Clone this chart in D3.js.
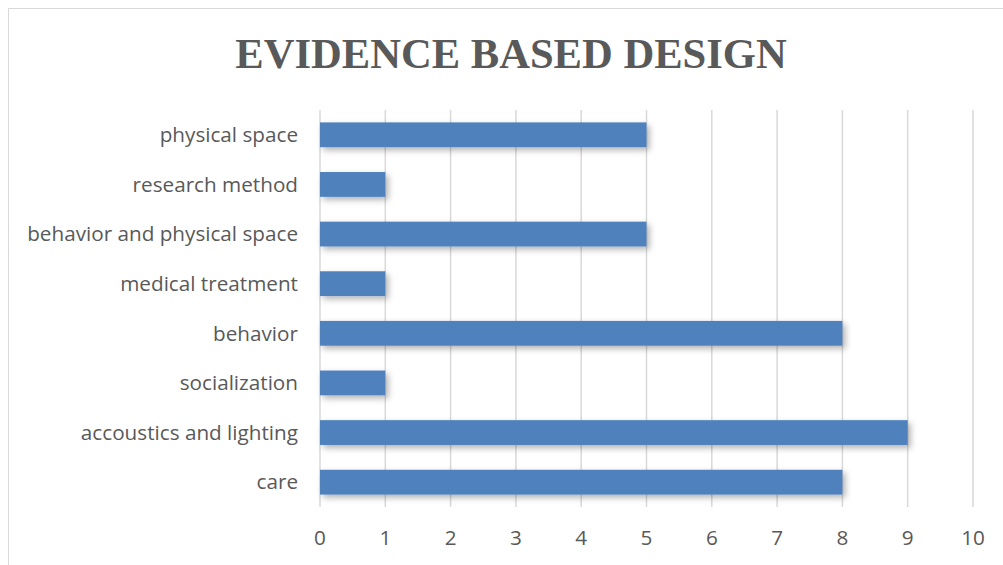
<!DOCTYPE html>
<html>
<head>
<meta charset="utf-8">
<script src="https://cdn.jsdelivr.net/npm/d3@7"></script>
<style>
  html, body { margin: 0; padding: 0; background: #fff; }
  svg { display: block; }
</style>
</head>
<body>
<svg id="chart"></svg>
<script>
// Data (top to bottom)
const categories = ["physical space", "research method", "behavior and physical space",
  "medical treatment", "behavior", "socialization", "accoustics and lighting", "care"];
const counts = [5, 1, 5, 1, 8, 1, 9, 8];
const xTicks = [0, 1, 2, 3, 4, 5, 6, 7, 8, 9, 10];
const chartTitle = "EVIDENCE BASED DESIGN";

const width = 1003, height = 565;
const margin = { top: 110, right: 30, bottom: 58, left: 320 };

const svg = d3.select("#chart").attr("width", width).attr("height", height);

// Chart frame
svg.append("rect")
  .attr("x", 8.5).attr("y", 8.5)
  .attr("width", width + 20).attr("height", height + 20)
  .attr("fill", "none").attr("stroke", "#d9d9d9").attr("stroke-width", 1);

// Drop shadow for bars
const defs = svg.append("defs");
const f = defs.append("filter").attr("id", "shadow")
  .attr("x", "-10%").attr("y", "-30%").attr("width", "130%").attr("height", "180%");
f.append("feDropShadow")
  .attr("dx", 3).attr("dy", 3).attr("stdDeviation", 3)
  .attr("flood-color", "#000").attr("flood-opacity", 0.3);

const x = d3.scaleLinear().domain([0, 10]).range([margin.left, 973]);
const y = d3.scaleBand().domain(categories)
  .range([margin.top, height - margin.bottom]).paddingInner(0.5).paddingOuter(0.25);

// Title
svg.append("text")
  .attr("x", 511).attr("y", 68)
  .attr("text-anchor", "middle")
  .attr("font-family", "'Liberation Serif', 'Times New Roman', serif")
  .attr("font-weight", "bold")
  .attr("font-size", "42.6px")
  .attr("fill", "#595959")
  .text(chartTitle);

// Vertical gridlines
svg.append("g")
  .selectAll("line")
  .data(xTicks)
  .join("line")
  .attr("x1", d => x(d)).attr("x2", d => x(d))
  .attr("y1", margin.top).attr("y2", height - margin.bottom)
  .attr("stroke", "#d9d9d9").attr("stroke-width", 1.5);

// Bars
svg.append("g")
  .selectAll("rect")
  .data(categories)
  .join("rect")
  .attr("x", x(0))
  .attr("y", d => y(d))
  .attr("width", (d, i) => x(counts[i]) - x(0))
  .attr("height", y.bandwidth())
  .attr("fill", "#4f81bd")
  .attr("filter", "url(#shadow)");

// Category labels
svg.append("g")
  .selectAll("text")
  .data(categories)
  .join("text")
  .attr("x", margin.left - 22)
  .attr("y", d => y(d) + y.bandwidth() / 2)
  .attr("dy", "0.35em")
  .attr("text-anchor", "end")
  .attr("font-family", "'Open Sans', sans-serif")
  .attr("font-size", "20.7px")
  .attr("fill", "#595959")
  .text(d => d);

// X tick labels
svg.append("g")
  .selectAll("text")
  .data(xTicks)
  .join("text")
  .attr("x", d => x(d))
  .attr("y", 538)
  .attr("dy", "0.35em")
  .attr("text-anchor", "middle")
  .attr("font-family", "'Open Sans', sans-serif")
  .attr("font-size", "20.7px")
  .attr("fill", "#595959")
  .text(d => d);
</script>
</body>
</html>
